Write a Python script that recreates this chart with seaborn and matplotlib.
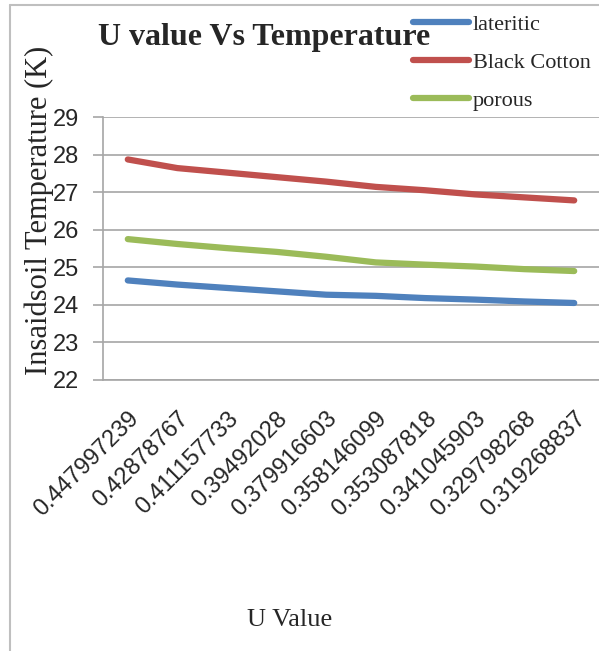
import numpy as np
import pandas as pd
import matplotlib
matplotlib.use("Agg")
import matplotlib.pyplot as plt
from matplotlib.lines import Line2D
import seaborn as sns

# data -----------------------------------------------------------------------
u_values = ["0.447997239", "0.42878767", "0.411157733", "0.39492028",
            "0.379916603", "0.358146099", "0.353087818", "0.341045903",
            "0.329798268", "0.319268837"]
lateritic = [24.65, 24.54, 24.45, 24.36, 24.27, 24.24, 24.18, 24.14, 24.09, 24.05]
black_cotton = [27.87, 27.64, 27.52, 27.40, 27.28, 27.14, 27.05, 26.94, 26.86, 26.78]
porous = [25.75, 25.62, 25.51, 25.41, 25.28, 25.13, 25.07, 25.02, 24.95, 24.90]
y_ticks = [22, 23, 24, 25, 26, 27, 28, 29]

series = {"lateritic": lateritic, "Black Cotton": black_cotton, "porous": porous}
palette = {"lateritic": "#4F81BD", "Black Cotton": "#C0504D", "porous": "#9BBB59"}

df = pd.concat(
    [pd.DataFrame({"U": u_values, "Temp": vals, "Soil": name})
     for name, vals in series.items()],
    ignore_index=True,
)

sns.set_style("white")
serif = ["Liberation Serif", "DejaVu Serif"]
sans = ["Liberation Sans", "DejaVu Sans"]
grid_col = "#A6A6A6"

fig = plt.figure(figsize=(5.99, 6.51), dpi=100)
ax = fig.add_axes([103 / 599, 1 - 380 / 651, 496 / 599, 263 / 651])

sns.lineplot(data=df, x="U", y="Temp", hue="Soil", palette=palette,
             sort=False, linewidth=4.5, ax=ax, solid_capstyle="round")

ax.set_xlim(-0.5, len(u_values) - 0.5)
ax.set_ylim(22, 29)
ax.set_yticks(y_ticks)
ax.grid(axis="y", color=grid_col, linewidth=1.2)
ax.set_axisbelow(True)
for side in ["top", "right"]:
    ax.spines[side].set_visible(False)
ax.spines["left"].set_color(grid_col)
ax.spines["left"].set_linewidth(1.2)
ax.spines["bottom"].set_color(grid_col)
ax.spines["bottom"].set_linewidth(1.2)

ax.tick_params(axis="y", length=7, width=1.2, color=grid_col, pad=10,
               labelsize=17, left=True)
ax.tick_params(axis="x", length=0, pad=20, labelsize=17)
for lab in ax.get_yticklabels():
    lab.set_family(sans)
for lab in ax.get_xticklabels():
    lab.set_family(sans)
    lab.set_rotation(45)
    lab.set_ha("right")
    lab.set_va("top")
    lab.set_rotation_mode("anchor")

ax.set_xlabel("")
ax.set_ylabel("Insaidsoil Temperature (K)", family=serif, fontsize=22)
ax.yaxis.set_label_coords(-0.098, 0.646)

fig.text(290 / 599, 1 - 620 / 651, "U Value", family=serif,
         fontsize=19, ha="center", va="center")
fig.text(264 / 599, 1 - 37 / 651, "U value Vs Temperature", family=serif,
         fontsize=23, fontweight="bold", ha="center", va="center")

leg = ax.legend(loc="upper left", bbox_to_anchor=(413 / 599, 1 - 14 / 651),
                bbox_transform=fig.transFigure, frameon=False,
                prop={"family": serif, "size": 16}, handlelength=2.5,
                handletextpad=0.2, labelspacing=0.8, borderpad=0,
                borderaxespad=0)
for h in leg.get_lines():
    h.set_linewidth(4.5)

# chart-area border (only top and left edges are visible in the reference)
fig.add_artist(Line2D([10 / 599, 10 / 599], [0, 1 - 5 / 651],
                      color="#BFBFBF", linewidth=1.5, transform=fig.transFigure))
fig.add_artist(Line2D([10 / 599, 1], [1 - 5 / 651, 1 - 5 / 651],
                      color="#BFBFBF", linewidth=1.5, transform=fig.transFigure))

fig.savefig("out.png", dpi=100, facecolor="white")
